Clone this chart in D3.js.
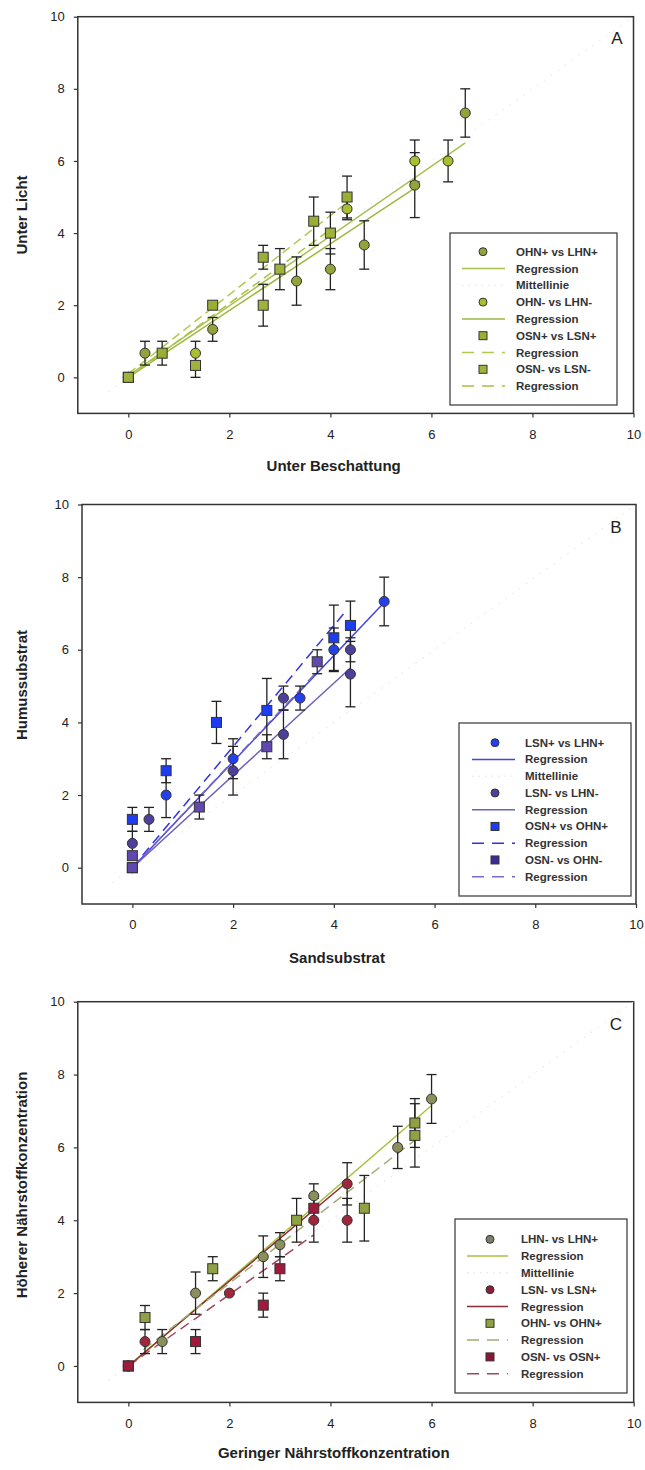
<!DOCTYPE html>
<html><head><meta charset="utf-8">
<script src="https://cdn.jsdelivr.net/npm/d3@7"></script>
<style>
html,body{margin:0;padding:0;background:#fff;}
svg{display:block;font-family:Arial,"Liberation Sans",sans-serif;}
</style></head>
<body><svg id="c" width="645" height="1470"></svg>
<script>
// ---------- shared axis settings ----------
const xTicks = [0, 2, 4, 6, 8, 10];
const yTicks = [0, 2, 4, 6, 8, 10];
const axisDomain = [-1, 10];
const midLine = [[-0.4, -0.4], [10, 10]];

// ---------- Panel A : [x, y, error] ----------
const A_OHNplus  = [[0,0,0],[0.33,0.67,0.33],[1.67,1.33,0.33],[3.33,2.67,0.67],[4,3,0.57],[4.67,3.67,0.67],[5.67,5.33,0.9],[6.67,7.33,0.67]];
const A_OHNminus = [[0,0,0],[1.33,0.67,0.33],[4.33,4.67,0.3],[5.67,6,0.58],[6.33,6,0.58]];
const A_OSNplus  = [[0,0,0],[0.67,0.67,0.33],[1.67,2,0],[2.67,3.33,0.33],[3.67,4.33,0.67],[4.33,5,0.58]];
const A_OSNminus = [[0,0,0],[1.33,0.33,0.33],[2.67,2,0.58],[3,3,0.57],[4,4,0.58]];
const A_regOHNplus  = [[0,0.05],[6.67,6.5]];
const A_regOHNminus = [[0,0],[5.67,5.25]];
const A_regOSNplus  = [[0,0.1],[4.33,4.85]];
const A_regOSNminus = [[0,0],[4.0,4.1]];
const A_legend = ["OHN+ vs  LHN+","Regression","Mittellinie","OHN- vs LHN-","Regression","OSN+ vs LSN+","Regression","OSN- vs LSN-","Regression"];

// ---------- Panel B ----------
const B_LSNplus  = [[0,0,0],[0.67,2,0.62],[2,3,0.55],[3.33,4.67,0.33],[4,6,0.6],[5,7.33,0.67]];
const B_LSNminus = [[0,0,0],[0,0.67,0.33],[0.33,1.33,0.33],[2,2.67,0.67],[3,3.67,0.67],[3,4.67,0.33],[4.33,6,0.33],[4.33,5.33,0.9]];
const B_OSNplus  = [[0,0,0],[0,1.33,0.33],[0.67,2.67,0.33],[1.67,4,0.58],[2.67,4.33,0.88],[4,6.33,0.9],[4.33,6.67,0.67]];
const B_OSNminus = [[0,0,0],[0,0.33,0],[1.33,1.67,0.33],[2.67,3.33,0.33],[3.67,5.67,0.33]];
const B_regLSNplus  = [[0,0],[5,7.3]];
const B_regLSNminus = [[0,0],[4.33,5.5]];
const B_regOSNplus  = [[0,0],[4.2,7.0]];
const B_regOSNminus = [[0,0],[3.67,5.4]];
const B_legend = ["LSN+ vs LHN+"," Regression","Mittellinie","LSN- vs LHN-","Regression","OSN+ vs OHN+","Regression","OSN- vs OHN-","Regression"];

// ---------- Panel C ----------
const C_LHN = [[0,0,0],[0.67,0.67,0.33],[1.33,2,0.58],[2.67,3,0.57],[3,3.33,0.33],[3.67,4.67,0.33],[5.33,6,0.58],[6,7.33,0.67]];
const C_LSN = [[0,0,0],[0.33,0.67,0.33],[2,2,0],[3.67,4,0.6],[4.33,5,0.58],[4.33,4,0.6]];
const C_OHN = [[0,0,0],[0.33,1.33,0.33],[1.67,2.67,0.33],[3.33,4,0.6],[4.67,4.33,0.9],[5.67,6.67,0.67],[5.67,6.33,0.87]];
const C_OSN = [[0,0,0],[1.33,0.67,0.33],[2.67,1.67,0.33],[3,2.67,0.33],[3.67,4.33,0.33]];
const C_regLHN = [[0.1,0.1],[6,7.15]];
const C_regLSN = [[0,0],[4.33,5.05]];
const C_regOHN = [[0.3,0.45],[5.67,6.2]];
const C_regOSN = [[0,0],[3.67,3.6]];
const C_legend = ["LHN- vs  LHN+","Regression","Mittellinie","LSN- vs LSN+","Regression","OHN- vs OHN+","Regression","OSN- vs OSN+","Regression"];

// ---------- layout / style (not data) ----------
const panels = [
  { id:"A", xr:[77.8,633.5], yr:[413.4,16.7], xTitle:"Unter Beschattung", yTitle:"Unter Licht",
    xTitleY:466, yTitleY:215,
    series:[
      {d:A_OHNplus, shape:"circle", fill:"#93a23a"},
      {d:A_OHNminus, shape:"circle", fill:"#a9bf30"},
      {d:A_OSNplus, shape:"square", fill:"#9aae36"},
      {d:A_OSNminus, shape:"square", fill:"#a0b23c"}],
    regs:[
      {d:A_regOHNplus, color:"#a8c050", dash:null},
      {d:A_regOHNminus, color:"#9cb840", dash:null},
      {d:A_regOSNplus, color:"#b4c850", dash:"9,5"},
      {d:A_regOSNminus, color:"#a8c040", dash:"9,5"}],
    midColor:"#dde0f0",
    legend:{labels:A_legend, box:[450,233,617,405], rowY:251.7, rowH:16.8, symX:483, lineX:[462,505], textX:516,
      marks:[{t:"circle",c:"#93a23a"},{t:"line",c:"#a8c050"},{t:"mid",c:"#dde0f0"},{t:"circle",c:"#a9bf30"},{t:"line",c:"#9cb840"},{t:"square",c:"#9aae36"},{t:"dash",c:"#b4c850"},{t:"square",c:"#a0b23c"},{t:"dash",c:"#a8c040"}]},
    label:{x:617,y:44}
  },
  { id:"B", xr:[82,636], yr:[904,504.5], xTitle:"Sandsubstrat", yTitle:"Humussubstrat",
    xTitleY:958, yTitleY:685,
    series:[
      {d:B_LSNplus, shape:"circle", fill:"#2540e8"},
      {d:B_LSNminus, shape:"circle", fill:"#4c409c"},
      {d:B_OSNplus, shape:"square", fill:"#1e3cf0"},
      {d:B_OSNminus, shape:"square", fill:"#6048b0"}],
    regs:[
      {d:B_regLSNplus, color:"#4444e0", dash:null},
      {d:B_regLSNminus, color:"#7060b8", dash:null},
      {d:B_regOSNplus, color:"#3333e6", dash:"10,6"},
      {d:B_regOSNminus, color:"#7868c8", dash:"10,6"}],
    midColor:"#e2dcdc",
    legend:{labels:B_legend, box:[459,723,631,896], rowY:742.7, rowH:16.75, symX:495, lineX:[472,515], textX:525,
      marks:[{t:"circle",c:"#2540e8"},{t:"line",c:"#4444e0"},{t:"mid",c:"#e2dcdc"},{t:"circle",c:"#4c409c"},{t:"line",c:"#7060b8"},{t:"square",c:"#1e3cf0"},{t:"dash",c:"#3333e6"},{t:"square",c:"#3a2c96"},{t:"dash",c:"#7868c8"}]},
    label:{x:616,y:533}
  },
  { id:"C", xr:[77.8,633.7], yr:[1402.4,1001.7], xTitle:"Geringer Nährstoffkonzentration", yTitle:"Höherer Nährstoffkonzentration",
    xTitleY:1453, yTitleY:1185,
    series:[
      {d:C_LHN, shape:"circle", fill:"#8a8f5c"},
      {d:C_LSN, shape:"circle", fill:"#a0263c"},
      {d:C_OHN, shape:"square", fill:"#8ea244"},
      {d:C_OSN, shape:"square", fill:"#a01a3c"}],
    regs:[
      {d:C_regLHN, color:"#a8c040", dash:null},
      {d:C_regLSN, color:"#8c2c34", dash:null},
      {d:C_regOHN, color:"#a4ac74", dash:"10,6"},
      {d:C_regOSN, color:"#a04858", dash:"10,6"}],
    midColor:"#dcdcdc",
    legend:{labels:C_legend, box:[455,1219,627,1393], rowY:1239.3, rowH:16.8, symX:490, lineX:[467,508], textX:521,
      marks:[{t:"circle",c:"#7c7e68"},{t:"line",c:"#a8c040"},{t:"mid",c:"#dcdcdc"},{t:"circle",c:"#8c1e3a"},{t:"line",c:"#8c2c34"},{t:"square",c:"#8ea244"},{t:"dash",c:"#a4ac74"},{t:"square",c:"#8c1434"},{t:"dash",c:"#a04858"}]},
    label:{x:616,y:1030}
  }
];

const svg = d3.select("#c");
svg.append("rect").attr("width",645).attr("height",1470).attr("fill","#fff");

panels.forEach(p => {
  const x = d3.scaleLinear().domain(axisDomain).range(p.xr);
  const y = d3.scaleLinear().domain(axisDomain).range(p.yr);
  const g = svg.append("g");

  // axes
  const ax = g.append("g").attr("transform",`translate(0,${p.yr[0]})`)
    .call(d3.axisBottom(x).tickValues(xTicks).tickSize(4).tickPadding(12).tickFormat(d3.format("d")));
  const ay = g.append("g").attr("transform",`translate(${p.xr[0]},0)`)
    .call(d3.axisLeft(y).tickValues(yTicks).tickSize(4).tickPadding(9).tickFormat(d3.format("d")));
  [ax, ay].forEach(a => {
    a.select(".domain").remove();
    a.selectAll("line").attr("stroke","#333").attr("stroke-width",1.2);
    a.selectAll("text").attr("font-size",13).attr("fill","#222").attr("font-family","Arial, 'Liberation Sans', sans-serif");
  });

  // frame
  g.append("rect").attr("x",p.xr[0]).attr("y",p.yr[1])
    .attr("width",p.xr[1]-p.xr[0]).attr("height",p.yr[0]-p.yr[1])
    .attr("fill","none").attr("stroke","#333").attr("stroke-width",1.5);

  // titles
  g.append("text").attr("x",(p.xr[0]+p.xr[1])/2 - 22).attr("y",p.xTitleY+5)
    .attr("text-anchor","middle").attr("font-size",15).attr("font-weight","bold").attr("fill","#222").text(p.xTitle);
  g.append("text").attr("transform",`translate(27,${p.yTitleY}) rotate(-90)`)
    .attr("text-anchor","middle").attr("font-size",15).attr("font-weight","bold").attr("fill","#222").text(p.yTitle);
  g.append("text").attr("x",p.label.x).attr("y",p.label.y).attr("text-anchor","middle")
    .attr("font-size",17).attr("fill","#222").text(p.id);

  // Mittellinie (1:1)
  g.append("line").attr("x1",x(midLine[0][0])).attr("y1",y(midLine[0][1]))
    .attr("x2",x(midLine[1][0])).attr("y2",y(midLine[1][1]))
    .attr("stroke",p.midColor).attr("stroke-width",1).attr("stroke-dasharray","1.5,7");

  // regression lines
  p.regs.forEach(r => {
    g.append("line").attr("x1",x(r.d[0][0])).attr("y1",y(r.d[0][1]))
      .attr("x2",x(r.d[1][0])).attr("y2",y(r.d[1][1]))
      .attr("stroke",r.color).attr("stroke-width",1.5)
      .attr("stroke-dasharray",r.dash);
  });

  // error bars
  p.series.forEach(s => {
    s.d.filter(v => v[2] > 0).forEach(v => {
      const eg = g.append("g").attr("stroke","#222").attr("stroke-width",1.3);
      eg.append("line").attr("x1",x(v[0])).attr("x2",x(v[0])).attr("y1",y(v[1]-v[2])).attr("y2",y(v[1]+v[2]));
      eg.append("line").attr("x1",x(v[0])-5).attr("x2",x(v[0])+5).attr("y1",y(v[1]+v[2])).attr("y2",y(v[1]+v[2]));
      eg.append("line").attr("x1",x(v[0])-5).attr("x2",x(v[0])+5).attr("y1",y(v[1]-v[2])).attr("y2",y(v[1]-v[2]));
    });
  });

  // markers
  p.series.forEach(s => {
    s.d.forEach(v => {
      if (s.shape === "circle") {
        g.append("circle").attr("cx",x(v[0])).attr("cy",y(v[1])).attr("r",5)
          .attr("fill",s.fill).attr("stroke","#333").attr("stroke-width",1);
      } else {
        g.append("rect").attr("x",x(v[0])-5).attr("y",y(v[1])-5).attr("width",10).attr("height",10)
          .attr("fill",s.fill).attr("stroke","#333").attr("stroke-width",1);
      }
    });
  });

  // legend
  const L = p.legend;
  const lg = g.append("g");
  lg.append("rect").attr("x",L.box[0]).attr("y",L.box[1]).attr("width",L.box[2]-L.box[0]).attr("height",L.box[3]-L.box[1])
    .attr("fill","#fff").attr("stroke","#444").attr("stroke-width",1.3);
  L.labels.forEach((lab,i) => {
    const ry = L.rowY + i*L.rowH;
    const m = L.marks[i];
    if (m.t === "circle") {
      lg.append("circle").attr("cx",L.symX).attr("cy",ry).attr("r",4).attr("fill",m.c).attr("stroke","#333");
    } else if (m.t === "square") {
      lg.append("rect").attr("x",L.symX-4).attr("y",ry-4).attr("width",8).attr("height",8).attr("fill",m.c).attr("stroke","#333");
    } else {
      lg.append("line").attr("x1",L.lineX[0]).attr("x2",L.lineX[1]).attr("y1",ry).attr("y2",ry)
        .attr("stroke",m.c).attr("stroke-width",m.t==="mid"?1:1.5)
        .attr("stroke-dasharray", m.t==="dash" ? "12,8" : (m.t==="mid" ? "1.5,5" : null));
    }
    lg.append("text").attr("x",L.textX).attr("y",ry+4).attr("font-size",11.5).attr("font-weight","bold")
      .attr("fill","#333").text(lab);
  });
});
</script></body></html>
